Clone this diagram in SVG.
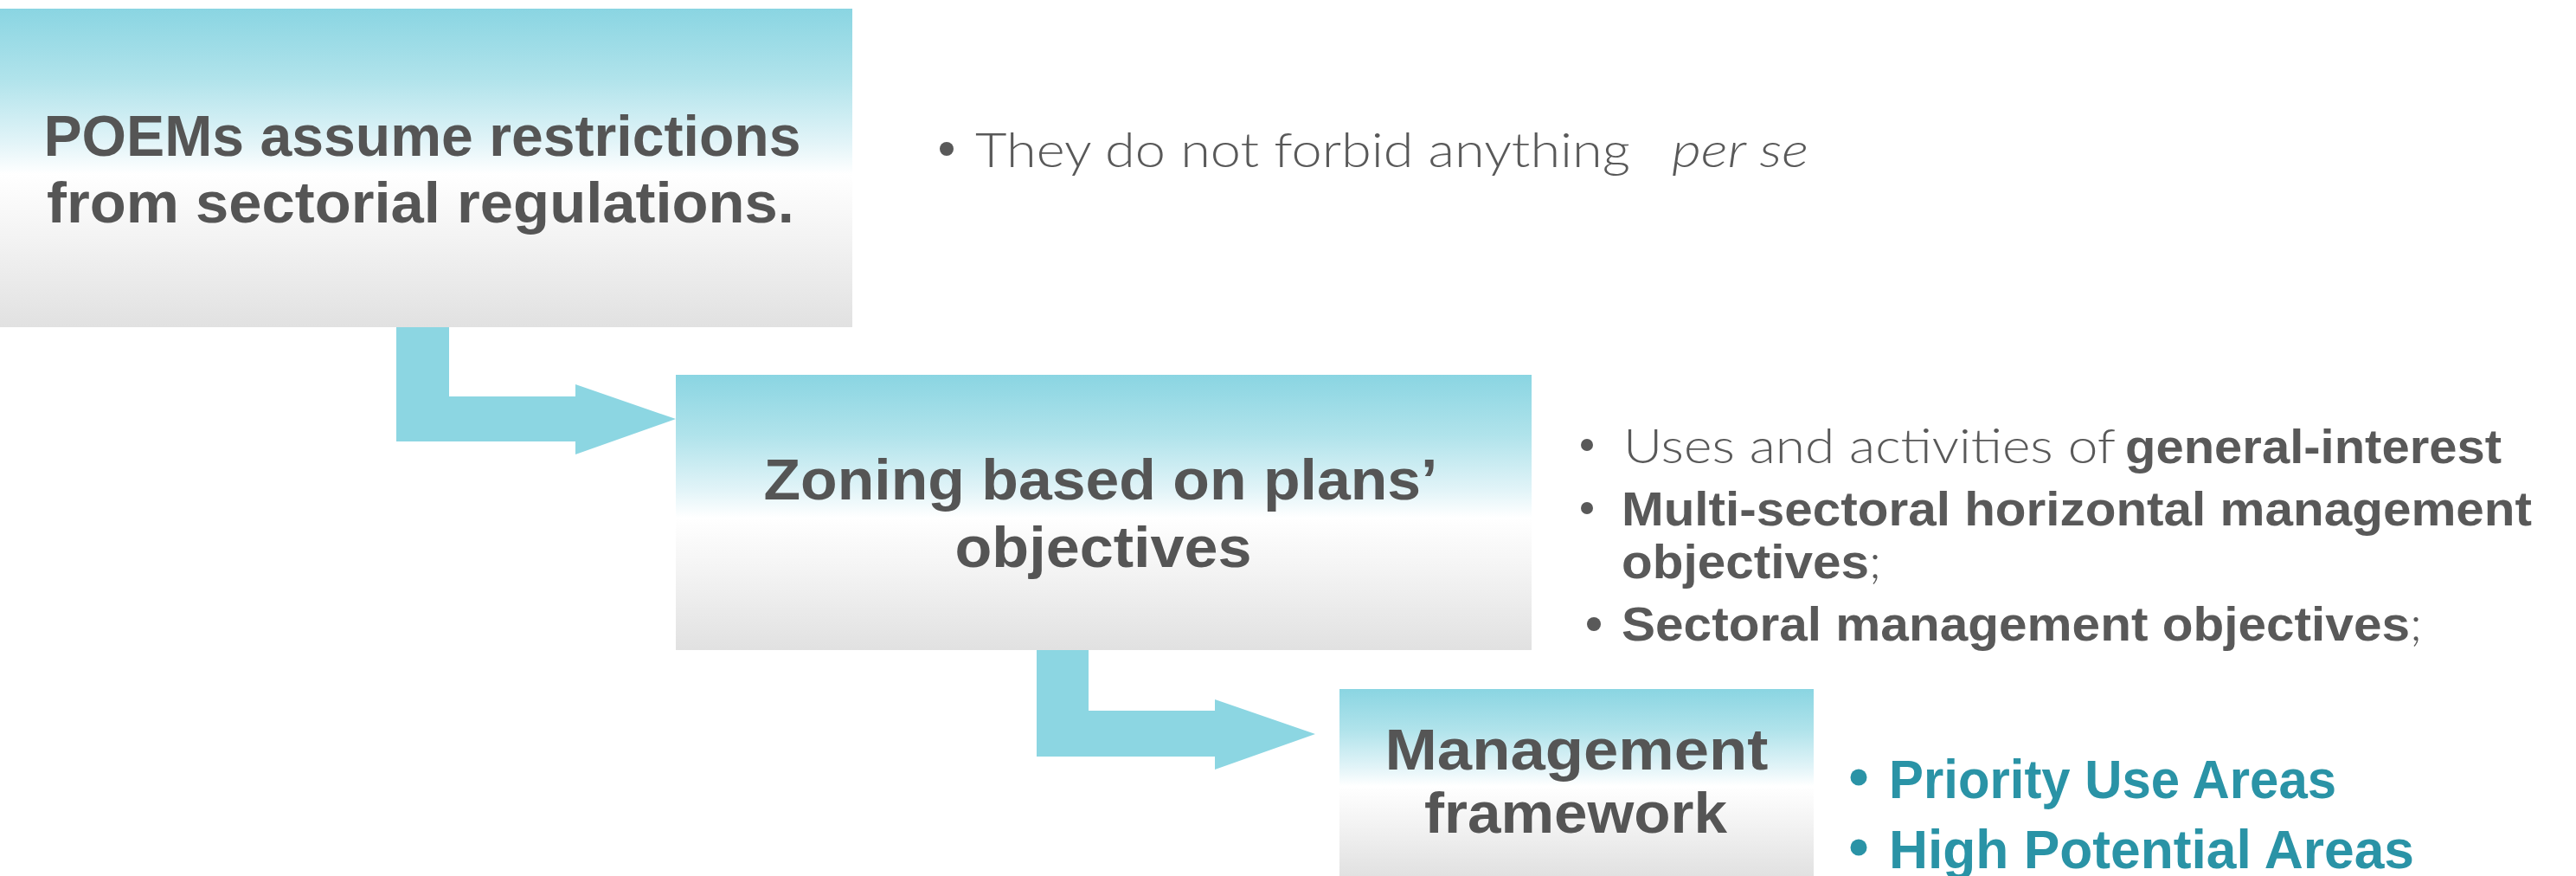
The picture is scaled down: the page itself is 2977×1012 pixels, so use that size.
<svg xmlns="http://www.w3.org/2000/svg" width="2977" height="1012" viewBox="0 0 2977 1012">
  <defs>
    <linearGradient id="boxFill" x1="0" y1="0" x2="0" y2="1">
      <stop offset="0" stop-color="#8AD5E2"/>
      <stop offset="0.22" stop-color="#B0E3EB"/>
      <stop offset="0.42" stop-color="#E2F4F8"/>
      <stop offset="0.52" stop-color="#FFFFFF"/>
      <stop offset="0.72" stop-color="#F3F3F3"/>
      <stop offset="1" stop-color="#E1E1E1"/>
    </linearGradient>
    <style>
      .box { fill: url(#boxFill); }
      .arrow { fill: #8CD6E2; }
      .title { font-family: "Liberation Sans", Arial, sans-serif; font-weight: bold; font-size: 67px; fill: #555555; text-anchor: middle; }
      .light { font-family: "Lato", "Liberation Sans", sans-serif; font-weight: 300; font-size: 56px; fill: #595959; }
      .lightItalic { font-family: "Lato", "Liberation Sans", sans-serif; font-weight: 300; font-style: italic; font-size: 56px; fill: #595959; }
      .bold { font-family: "Liberation Sans", Arial, sans-serif; font-weight: bold; font-size: 56px; fill: #595959; }
      .teal { font-family: "Liberation Sans", Arial, sans-serif; font-weight: bold; font-size: 63px; fill: #2A93A6; }
      .dot { fill: #595959; }
      .dotTeal { fill: #2A93A6; }
    </style>
  </defs>

  <rect width="2977" height="1012" fill="#FFFFFF"/>

  <!-- elbow arrows between the steps -->
  <g id="connectors">
    <polygon class="arrow" points="458,378 519,378 519,458 665,458 665,444 781,484 665,525 665,510 458,510"/>
    <polygon class="arrow" points="1198,751 1258,751 1258,821 1404,821 1404,808 1520,848 1404,889 1404,874 1198,874"/>
  </g>

  <!-- step 1 -->
  <g id="step-poems">
    <rect class="box" x="0" y="10" width="985" height="368"/>
    <text class="title" x="488" y="180" textLength="875" lengthAdjust="spacingAndGlyphs">POEMs assume restrictions</text>
    <text class="title" x="486" y="257" textLength="864" lengthAdjust="spacingAndGlyphs">from sectorial regulations.</text>
  </g>

  <!-- step 2 -->
  <g id="step-zoning">
    <rect class="box" x="781" y="433" width="989" height="318"/>
    <text class="title" x="1272" y="577" font-size="69" textLength="779" lengthAdjust="spacingAndGlyphs">Zoning based on plans’</text>
    <text class="title" x="1275" y="655" font-size="69" textLength="343" lengthAdjust="spacingAndGlyphs">objectives</text>
  </g>

  <!-- step 3 -->
  <g id="step-management">
    <rect class="box" x="1548" y="796" width="548" height="216"/>
    <text class="title" x="1822" y="889" font-size="69" textLength="443" lengthAdjust="spacingAndGlyphs">Management</text>
    <text class="title" x="1821" y="962" font-size="69" textLength="350" lengthAdjust="spacingAndGlyphs">framework</text>
  </g>

  <!-- note for step 1 -->
  <g id="note-poems">
    <circle class="dot" cx="1094" cy="172" r="8"/>
    <text class="light" x="1127" y="193" textLength="757" lengthAdjust="spacingAndGlyphs">They do not forbid anything</text>
    <text class="lightItalic" x="1932" y="193" textLength="158" lengthAdjust="spacingAndGlyphs">per se</text>
  </g>

  <!-- notes for step 2 -->
  <g id="note-zoning">
    <circle class="dot" cx="1834" cy="514" r="7"/>
    <text class="light" x="1876" y="535" textLength="569" lengthAdjust="spacingAndGlyphs">Uses and activities of</text>
    <text class="bold" x="2456" y="535" textLength="435" lengthAdjust="spacingAndGlyphs">general-interest</text>

    <circle class="dot" cx="1834" cy="587" r="7"/>
    <text class="bold" x="1874" y="607" textLength="1052" lengthAdjust="spacingAndGlyphs">Multi-sectoral horizontal management</text>
    <text class="bold" x="1874" y="668" textLength="286" lengthAdjust="spacingAndGlyphs">objectives</text>
    <text class="light" x="2160" y="668">;</text>

    <circle class="dot" cx="1842" cy="721" r="8"/>
    <text class="bold" x="1874" y="740" textLength="911" lengthAdjust="spacingAndGlyphs">Sectoral management objectives</text>
    <text class="light" x="2785" y="740">;</text>
  </g>

  <!-- notes for step 3 -->
  <g id="note-management">
    <circle class="dotTeal" cx="2148" cy="898" r="9.5"/>
    <text class="teal" x="2183" y="922" textLength="517" lengthAdjust="spacingAndGlyphs">Priority Use Areas</text>
    <circle class="dotTeal" cx="2148" cy="979" r="9.5"/>
    <text class="teal" x="2183" y="1003" textLength="607" lengthAdjust="spacingAndGlyphs">High Potential Areas</text>
  </g>
</svg>
